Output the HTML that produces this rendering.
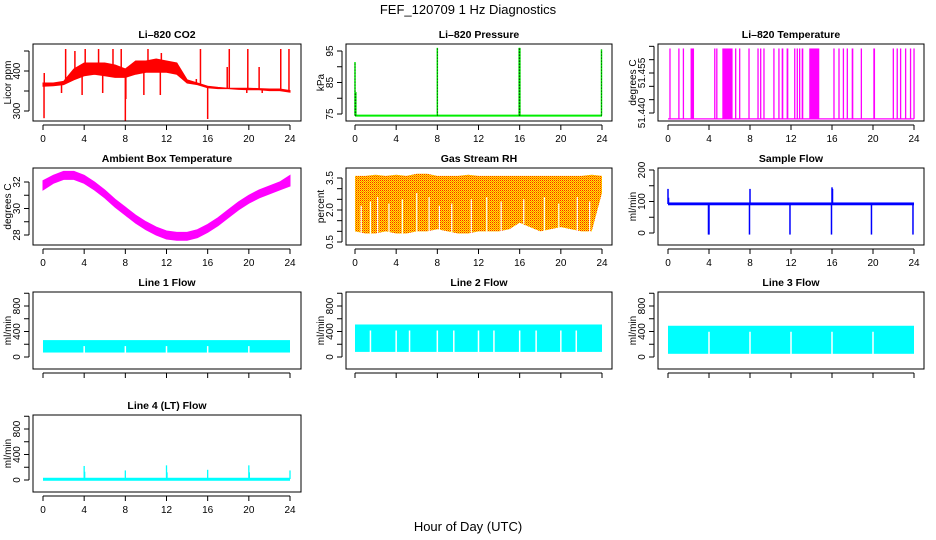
<!DOCTYPE html>
<html><head><meta charset="utf-8">
<style>
html,body{margin:0;padding:0;background:#fff;}
svg{display:block;font-family:"Liberation Sans",sans-serif;}
</style></head>
<body>
<svg id="c" width="936" height="540" viewBox="0 0 936 540" xmlns="http://www.w3.org/2000/svg">
<defs>
<pattern id="rhpat" width="2" height="2" patternUnits="userSpaceOnUse">
<rect width="2" height="2" fill="#ffee00"/>
<rect x="0" y="0" width="1" height="1" fill="#ff2000"/>
<rect x="1" y="1" width="1" height="1" fill="#ff8000"/>
</pattern>
</defs>
<text x="468" y="14" text-anchor="middle" font-size="13">FEF_120709  1 Hz Diagnostics</text>
<text x="468" y="531" text-anchor="middle" font-size="13">Hour of Day (UTC)</text>
</svg>
<script>
// ---- data (hours 0..24) ----
const hours = [0,1,2,3,4,5,6,7,8,9,10,11,12,13,14,15,16,17,18,19,20,21,22,23,24];
const xTicks = [0,4,8,12,16,20,24];
// CO2
const co2Lo = [362,363,366,378,388,392,388,384,384,392,397,397,397,392,370,366,358,356,356,354,353,353,351,351,347];
const co2Hi = [370,370,374,405,420,420,420,415,405,425,425,430,425,420,378,370,362,359,357,357,357,356,355,355,351];
const co2Spikes = [[0.1,282],[0.12,395],[2.2,455],[3.1,450],[4.1,455],[5.4,455],[6.8,455],[7.6,455],[8.0,275],[8.05,330],[10.2,455],[11.5,445],[13.0,420],[15.3,455],[16.0,280],[17.9,410],[18.1,455],[19.9,455],[21.0,410],[23.1,455],[23.9,455],[1.8,345],[3.8,340],[5.8,345],[9.8,340],[11.4,340],[14.9,380],[19.8,345],[21.3,345]];
// Pressure
const presBase = 74.5;
const presSpikes = [[0,91.5],[0.08,82],[8,96],[15.95,96],[16.02,96],[23.95,95.5]];
// Li-820 temperature
const tempLow = 51.4378;
const tempHigh = 51.4642;
const tempOn = [[0.13,0.16],[1.0,1.03],[1.44,1.5],[2.2,2.54],[4.5,4.55],[4.7,4.75],[5.3,6.3],[6.54,6.57],[6.93,6.96],[7.84,7.94],[8.72,8.75],[8.98,9.01],[9.3,9.33],[10.27,10.3],[10.76,10.79],[11.09,11.25],[11.57,11.74],[12.3,12.33],[12.55,12.58],[12.78,12.81],[13.04,13.2],[13.78,14.76],[16.13,16.16],[16.62,16.65],[17.05,17.08],[17.43,17.46],[17.92,18.08],[18.8,18.83],[20.03,20.2],[21.92,21.95],[22.3,22.33],[22.63,22.66],[23.12,23.15],[23.6,23.63],[23.94,23.97]];
// Ambient box temperature
const ambLo = [31.4,31.9,32.2,32.2,31.9,31.4,30.8,30.1,29.5,28.9,28.4,28.0,27.7,27.6,27.6,27.8,28.2,28.7,29.3,29.9,30.4,30.8,31.1,31.4,31.7];
const ambHi = [32.1,32.5,32.8,32.8,32.5,32.0,31.4,30.7,30.1,29.5,29.0,28.6,28.3,28.2,28.2,28.4,28.8,29.3,29.9,30.5,31.0,31.4,31.7,32.0,32.5];
// Gas stream RH
const rhLo = [1.0,0.9,0.9,1.0,0.9,0.9,1.0,1.0,1.1,1.0,0.9,0.9,1.0,1.0,1.0,1.1,1.4,1.2,1.0,1.1,1.2,1.1,1.0,1.0,2.8];
const rhHi = [3.6,3.6,3.65,3.6,3.65,3.6,3.7,3.7,3.6,3.6,3.6,3.65,3.6,3.6,3.6,3.6,3.6,3.6,3.6,3.6,3.6,3.6,3.6,3.65,3.6];
const rhGaps = [[0.6,2.2],[1.5,2.4],[2.2,2.6],[3.3,2.3],[4.6,2.5],[6.0,2.8],[7.2,2.6],[8.2,2.2],[9.4,2.3],[11.3,2.5],[12.8,2.6],[14.2,2.4],[16.4,2.5],[18.4,2.6],[19.8,2.3],[21.6,2.6],[22.8,2.4]];
// Sample flow
const sfLo = 88, sfHi = 97;
const sfSpikes = [[0,140],[0.05,112],[3.95,-5],[4.0,-5],[7.95,-5],[8.0,140],[11.9,-5],[15.95,-5],[16.0,145],[16.05,140],[19.85,-5],[23.9,-5]];
// Line flows
const l1Lo = 70, l1Hi = 265;
const l1Gaps = [4,8,12,16,20];
const l2Lo = 80, l2Hi = 510;
const l2Gaps = [1.5,4,5.3,8,9.6,12,13.5,16,17.6,20,21.5];
const l3Lo = 50, l3Hi = 490;
const l3Gaps = [4,8,12,16,20];
const l4Base = 15;
const l4Spikes = [[4,220],[4.05,130],[8,150],[12,230],[12.05,120],[16,160],[20,230],[20.05,120],[24,150]];

const svg = document.getElementById('c');
const NS = 'http://www.w3.org/2000/svg';
function mk(tag, attrs, parent){
  const e = document.createElementNS(NS, tag);
  for (const k in attrs) e.setAttribute(k, attrs[k]);
  (parent||svg).appendChild(e);
  return e;
}
const cols = [{x0:33,x1:301,h0:43,h24:290},{x0:346,x1:612,h0:355,h24:602},{x0:658,x1:924,h0:668,h24:914}];
const rows = [44,168,292,415];
const BH = 77;

function panel(name, title, c, r, yA, yB, yTicks, yLabels, ytitle, showXLabels){
  const col = cols[c], y0 = rows[r], y1 = rows[r]+BH;
  const g = mk('g', {});
  
  
  const xs = h => col.h0 + (col.h24-col.h0)*h/24;
  const ys = v => yA[1] + (yB[1]-yA[1])*(v-yA[0])/(yB[0]-yA[0]);
  const t = mk('text', {x:(col.x0+col.x1)/2, y:y0-6, 'text-anchor':'middle','font-size':10.5,'font-weight':'bold'}, g);
  t.textContent = title;
  
  
  const plot = mk('g', {}, g);
  
  
  const frame = mk('rect', {x:col.x0, y:y0, width:col.x1-col.x0, height:BH, fill:'none', stroke:'#000','stroke-width':1}, g);
  
  
  const xa = mk('g', {}, g);
  
  
  mk('line', {x1:xs(0), x2:xs(24), y1:y1+4, y2:y1+4, stroke:'#000'}, xa);
  xTicks.forEach(h => {
    mk('line', {x1:xs(h), x2:xs(h), y1:y1+4, y2:y1+9, stroke:'#000'}, xa);
    if (showXLabels){
      const tl = mk('text', {x:xs(h), y:y1+21, 'text-anchor':'middle','font-size':10}, xa);
      tl.textContent = h;
      
      
    }
  });
  const ya = mk('g', {}, g);
  
  
  const ax = col.x0 - 4;
  mk('line', {x1:ax, x2:ax, y1:ys(yTicks[0]), y2:ys(yTicks[yTicks.length-1]), stroke:'#000'}, ya);
  yTicks.forEach((v,i) => {
    mk('line', {x1:ax-5, x2:ax, y1:ys(v), y2:ys(v), stroke:'#000'}, ya);
    if (yLabels[i]){
      const tl = mk('text', {x:0, y:0, 'text-anchor':'middle','font-size':10, transform:`translate(${ax-9},${ys(v)}) rotate(-90)`}, ya);
      tl.textContent = yLabels[i];
      
      
    }
  });
  const yt = mk('text', {x:0,y:0,'text-anchor':'middle','font-size':10, transform:`translate(${col.x0-22},${(y0+y1)/2}) rotate(-90)`}, ya);
  yt.textContent = ytitle;
  
  
  return {plot, xs, ys};
}
function band(p, lo, hi, fill){
  let pts = hours.map((h,i)=>p.xs(h)+','+p.ys(hi[i]));
  pts = pts.concat(hours.slice().reverse().map((h,j)=>{const i=hours.length-1-j; return p.xs(h)+','+p.ys(lo[i]);}));
  const e = mk('polygon', {points:pts.join(' '), fill:fill, stroke:fill==='url(#rhpat)'?'none':fill,'stroke-width':1}, p.plot);
  
  
}
function spikes(p, base, arr, color, w){
  arr.forEach(s => {
    const e = mk('line', {x1:p.xs(s[0]), x2:p.xs(s[0]), y1:p.ys(base), y2:p.ys(s[1]), stroke:color, 'stroke-width':w||1.2}, p.plot);
    
    
  });
}

p = panel('co2-panel','Li\u2013820 CO2',0,0,[300,111],[400,71],[300,350,400,450],['300','','400',''],'Licor ppm',true);
band(p, co2Lo, co2Hi, '#ff0000');
co2Spikes.forEach(s => { const i=Math.round(s[0]); spikes(p, (co2Lo[i]+co2Hi[i])/2, [s], '#ff0000', 1.5); });

var p = panel('pressure-panel','Li\u2013820 Pressure',1,0,[75,114],[95,51],[75,80,85,90,95],['75','','85','','95'],'kPa',true);
{ const e = mk('line',{x1:p.xs(0),x2:p.xs(24),y1:p.ys(presBase),y2:p.ys(presBase),stroke:'#00ee00','stroke-width':2},p.plot);
    }
spikes(p, presBase, presSpikes, '#00ee00', 1.5);
presSpikes.forEach(s=>{ const e=mk('line',{x1:p.xs(s[0]),x2:p.xs(s[0]),y1:p.ys(presBase),y2:p.ys(s[1]),stroke:'#000','stroke-width':0.8,'stroke-dasharray':'1,2'},p.plot);
    });

p = panel('li820-temp-panel','Li\u2013820 Temperature',2,0,[51.440,113],[51.455,73],[51.440,51.445,51.450,51.455,51.460,51.465],['51.440','','','51.455','',''],'degrees C',true);
{ const e = mk('line',{x1:p.xs(0),x2:p.xs(24),y1:p.ys(tempLow),y2:p.ys(tempLow),stroke:'#ff00ff','stroke-width':1.2},p.plot);
    }
tempOn.forEach(iv=>{ const x=p.xs(iv[0]); const w=Math.max(1.3,p.xs(iv[1])-x);
  const e=mk('rect',{x:x,y:p.ys(tempHigh),width:w,height:p.ys(tempLow)-p.ys(tempHigh),fill:'#ff00ff'},p.plot);
    });

p = panel('ambient-temp-panel','Ambient Box Temperature',0,1,[28,235],[32,182],[28,29,30,31,32],['28','','30','','32'],'degrees C',true);
band(p, ambLo, ambHi, '#ff00ff');

p = panel('rh-panel','Gas Stream RH',1,1,[0.5,242],[3.5,178],[0.5,1.0,1.5,2.0,2.5,3.0,3.5],['0.5','','','2.0','','','3.5'],'percent',true);
band(p, rhLo, rhHi, 'url(#rhpat)');
rhGaps.forEach(gp=>{ const i=Math.round(gp[0]);
  const e=mk('line',{x1:p.xs(gp[0]),x2:p.xs(gp[0]),y1:p.ys(rhLo[i]-0.05),y2:p.ys(gp[1]),stroke:'#fff','stroke-width':1.2},p.plot);
    });

p = panel('sample-flow-panel','Sample Flow',2,1,[0,233],[200,170],[0,50,100,150,200],['0','','100','','200'],'ml/min',true);
{ const e=mk('rect',{x:p.xs(0),y:p.ys(sfHi),width:p.xs(24)-p.xs(0),height:p.ys(sfLo)-p.ys(sfHi),fill:'#0000ff'},p.plot);
    }
spikes(p, 92, sfSpikes, '#0000ff', 1.5);

const flowTicks=[0,200,400,600,800,1000], flowLabels=['0','','400','','800',''];
function flowPanel(name,title,c,r,lo,hi,gaps,xl){
  const base = rows[r]+65;
  const q = panel(name,title,c,r,[0,base],[400,base-25.5],flowTicks,flowLabels,'ml/min',xl);
  const e=mk('rect',{x:q.xs(0),y:q.ys(hi),width:q.xs(24)-q.xs(0),height:Math.max(3,q.ys(lo)-q.ys(hi)),fill:'#00ffff'},q.plot);
   
  (gaps||[]).forEach(gh=>{ const g2=mk('line',{x1:q.xs(gh),x2:q.xs(gh),y1:q.ys(hi)+6,y2:q.ys(lo)+1,stroke:'#fff','stroke-width':1.5},q.plot);
      });
  return q;
}
flowPanel('line1-flow-panel','Line 1 Flow',0,2,l1Lo,l1Hi,l1Gaps,false);
flowPanel('line2-flow-panel','Line 2 Flow',1,2,l2Lo,l2Hi,l2Gaps,false);
flowPanel('line3-flow-panel','Line 3 Flow',2,2,l3Lo,l3Hi,l3Gaps,false);
p = flowPanel('line4-flow-panel','Line 4 (LT) Flow',0,3,l4Base-20,l4Base+20,[],true);
spikes(p, l4Base, l4Spikes, '#00ffff', 1.3);
</script>
</body></html>
